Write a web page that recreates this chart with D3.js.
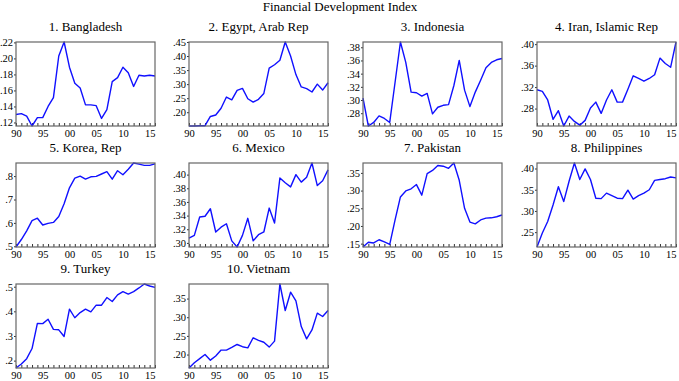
<!DOCTYPE html>
<html><head><meta charset="utf-8">
<script src="https://cdn.jsdelivr.net/npm/d3@7"></script>
<style>body{margin:0;background:#fff}svg{display:block}</style>
</head><body>
<script>
const years = d3.range(1990, 2017);
const xTickYears = [1990, 1995, 2000, 2005, 2010, 2015];
const xTickLabels = ["90", "95", "00", "05", "10", "15"];
const mainTitle = "Financial Development Index";
const countries = ["1. Bangladesh", "2. Egypt, Arab Rep", "3. Indonesia", "4. Iran, Islamic Rep",
  "5. Korea, Rep", "6. Mexico", "7. Pakistan", "8. Philippines", "9. Turkey", "10. Vietnam"];

const bangladesh = [.130,.131,.128,.1156,.126,.126,.140,.151,.203,.2205,.189,.169,.163,.142,.142,.141,.125,.136,.171,.176,.189,.182,.165,.179,.178,.179,.178];
const egypt = [.151,.151,.152,.152,.185,.190,.214,.254,.244,.278,.285,.248,.236,.246,.267,.357,.369,.385,.450,.400,.334,.290,.284,.272,.300,.279,.305];
const indonesia = [.303,.2606,.266,.276,.272,.266,.327,.388,.357,.312,.311,.306,.310,.279,.289,.292,.293,.322,.360,.315,.290,.312,.330,.349,.357,.361,.363];
const iran = [.315,.312,.296,.260,.276,.2475,.266,.256,.249,.258,.281,.292,.271,.296,.315,.292,.292,.316,.341,.336,.331,.336,.343,.374,.364,.357,.404];
const korea = [.497,.529,.566,.610,.620,.591,.598,.602,.627,.682,.750,.791,.800,.787,.797,.799,.809,.819,.787,.823,.806,.829,.856,.851,.846,.846,.852];
const mexico = [.307,.311,.338,.339,.350,.316,.323,.328,.303,.294,.311,.336,.303,.312,.316,.351,.329,.395,.388,.382,.400,.389,.396,.417,.384,.391,.407];
const pakistan = [.1405,.154,.152,.161,.155,.148,.217,.282,.299,.305,.317,.287,.348,.357,.371,.369,.363,.378,.329,.250,.211,.206,.217,.222,.223,.226,.231];
const philippines = [.215,.248,.275,.314,.357,.322,.370,.413,.374,.399,.374,.330,.329,.342,.336,.330,.329,.349,.328,.336,.342,.350,.372,.374,.376,.380,.378];
const turkey = [.170,.186,.208,.249,.351,.350,.368,.327,.325,.298,.409,.374,.395,.409,.398,.425,.425,.456,.440,.467,.480,.470,.480,.495,.511,.503,.497];
const vietnam = [.164,.178,.189,.200,.185,.196,.212,.212,.219,.227,.221,.218,.245,.238,.233,.220,.236,.389,.318,.367,.344,.275,.242,.266,.311,.302,.318];

const yTicks = [
  [.12,.14,.16,.18,.20,.22],
  [.20,.25,.30,.35,.40,.45],
  [.28,.30,.32,.34,.36,.38],
  [.28,.32,.36,.40],
  [.5,.6,.7,.8],
  [.30,.32,.34,.36,.38,.40],
  [.15,.20,.25,.30,.35],
  [.25,.30,.35,.40],
  [.2,.3,.4,.5],
  [.20,.25,.30,.35]
];
const yFormats = [".2f",".2f",".2f",".2f",".1f",".2f",".2f",".2f",".1f",".2f"];
const series = [bangladesh, egypt, indonesia, iran, korea, mexico, pakistan, philippines, turkey, vietnam];

const W = 679, H = 381;
const svg = d3.select("body").append("svg").attr("width", W).attr("height", H);
const font = "'Liberation Serif','Times New Roman',Times,serif";

svg.append("text").attr("x", 340).attr("y", 11).attr("text-anchor", "middle")
  .attr("font-family", font).attr("font-size", 13).attr("fill", "#000").text(mainTitle);

const colLeft = [16, 189, 363, 537];
const rowTop = [42, 163, 284];
const pw = 139, ph = 84;

series.forEach((data, i) => {
  const col = i % 4, row = Math.floor(i / 4);
  const x0 = colLeft[col], y0 = rowTop[row];
  const g = svg.append("g").attr("transform", `translate(${x0},${y0})`);
  const x = d3.scaleLinear().domain([1990, 2016]).range([0, pw]);
  const y = d3.scaleLinear().domain(d3.extent(data)).range([ph, 0]);

  g.append("text").attr("x", pw / 2).attr("y", -11).attr("text-anchor", "middle")
    .attr("font-family", font).attr("font-size", 13).attr("fill", "#000").text(countries[i]);

  const ya = g.append("g").call(d3.axisLeft(y).tickValues(yTicks[i])
    .tickFormat(d => d3.format(yFormats[i])(d).replace(/^0/, "")).tickSize(2).tickPadding(1));
  ya.select(".domain").remove();
  ya.selectAll("line").attr("stroke", "#333");
  ya.selectAll("text").attr("font-family", font).attr("font-size", 10.5).attr("fill", "#000");

  const xa = g.append("g").attr("transform", `translate(0,${ph})`)
    .call(d3.axisBottom(x).tickValues(years).tickSize(-3).tickFormat(""));
  xa.select(".domain").remove();
  xa.selectAll("line").attr("stroke", "#333");
  const xl = g.append("g").attr("transform", `translate(0,${ph})`)
    .call(d3.axisBottom(x).tickValues(xTickYears).tickSize(0).tickPadding(4)
      .tickFormat((d, k) => xTickLabels[k]));
  xl.select(".domain").remove();
  xl.selectAll("text").attr("font-family", font).attr("font-size", 10.5).attr("fill", "#000");

  const line = d3.line().x((d, k) => x(years[k])).y(d => y(d));
  g.append("path").datum(data).attr("d", line).attr("fill", "none")
    .attr("stroke", "#1010ff").attr("stroke-width", 1.4).attr("stroke-linejoin", "round");

  g.append("rect").attr("x", 0).attr("y", 0).attr("width", pw).attr("height", ph)
    .attr("fill", "none").attr("stroke", "#666").attr("stroke-width", 1.2);
});
</script>
</body></html>
